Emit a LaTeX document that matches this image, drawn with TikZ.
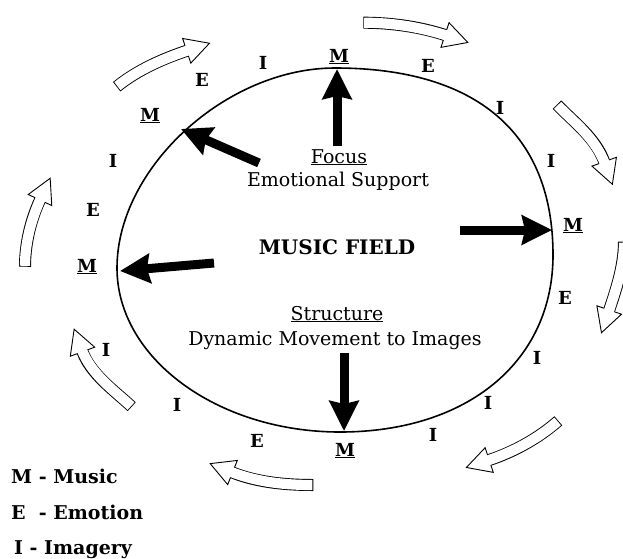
\documentclass[tikz,border=0pt]{standalone}
\usepackage{fontspec}
\setmainfont{DejaVu Serif}
\usetikzlibrary{arrows.meta,calc}
\tikzset{
  lbl/.style={font=\fontsize{18}{18}\selectfont\bfseries, inner sep=0pt, anchor=base},
  body/.style={font=\fontsize{19}{19}\selectfont, inner sep=0pt, anchor=base},
  fieldlbl/.style={font=\fontsize{20}{20}\selectfont\bfseries, inner sep=0pt, anchor=base},
  legend/.style={font=\fontsize{19}{19}\selectfont\bfseries, inner sep=0pt, anchor=base west},
  bigarrow/.style={line width=9pt, -{Stealth[length=30pt,width=29pt,inset=3pt]}},
  field/.style={line width=1.6pt},
}
\newcommand\hollowarrow[4]{%
  \draw[line width=12pt] (#1) .. controls (#2) and (#3) .. (#4);
  \path (#4) coordinate (hb) (#3) coordinate (hc);
  \filldraw[fill=white, line width=0.9pt, line join=miter]
    ($(hb)!13pt!90:(hc)$) -- ($(hb)!-24pt!(hc)$) -- ($(hb)!13pt!-90:(hc)$) -- cycle;
  \draw[line width=10.2pt, white, shorten <=0.9pt, shorten >=-3pt] (#1) .. controls (#2) and (#3) .. (#4);
}
\begin{document}
\begin{tikzpicture}[x=1pt,y=-1pt]
\useasboundingbox (0,0) rectangle (623,558);
% music field
\draw[field] (335,68) .. controls (476.7,68) and (553,133.4) .. (553,255)
  .. controls (553,361.2) and (467.8,432) .. (340,432)
  .. controls (217.4,432) and (117,358.2) .. (117,268)
  .. controls (117,168) and (226,68) .. cycle;
% centre texts
\node[body] (focus) at (339,163) {\underline{Focus}};
\node[body] (emo) at (338,186) {Emotional Support};
\node[fieldlbl] (mf) at (337,254) {MUSIC FIELD};
\node[body] (struct) at (337,320) {\underline{Structure}};
\node[body] (dyn) at (335,345) {Dynamic Movement to Images};
% black arrows
\coordinate (s1) at (337,146); \coordinate (e1) at (337,69);
\coordinate (s2) at (259,163); \coordinate (e2) at (181,129);
\coordinate (s3) at (214,263); \coordinate (e3) at (120,271);
\coordinate (s4) at (460,230); \coordinate (e4) at (552,230);
\coordinate (s5) at (344,353); \coordinate (e5) at (344,431);
\draw[bigarrow] (s1) -- (e1);
\draw[bigarrow] (s2) -- (e2);
\draw[bigarrow] (s3) -- (e3);
\draw[bigarrow] (s4) -- (e4);
\draw[bigarrow] (s5) -- (e5);
% ring letters
\node[lbl] (l1) at (263,69) {I};
\node[lbl] (l2) at (202,86) {E};
\node[lbl] (l3) at (150,121) {\underline{M}};
\node[lbl] (l4) at (113,167) {I};
\node[lbl] (l5) at (93,216) {E};
\node[lbl] (l6) at (87,272) {\underline{M}};
\node[lbl] (l7) at (106,356) {I};
\node[lbl] (l8) at (177,411) {I};
\node[lbl] (l9) at (257,447) {E};
\node[lbl] (l10) at (345,456) {\underline{M}};
\node[lbl] (l11) at (433,441) {I};
\node[lbl] (l12) at (488,409) {I};
\node[lbl] (l13) at (537,364) {I};
\node[lbl] (l14) at (565,304) {E};
\node[lbl] (l15) at (573,231) {\underline{M}};
\node[lbl] (l16) at (551,167) {I};
\node[lbl] (l17) at (500,114) {I};
\node[lbl] (l18) at (428,72) {E};
\node[lbl] (l19) at (339,62) {\underline{M}};
% hollow flow arrows
\hollowarrow{116.7,86.7}{136.9,70.4}{162,59}{186.7,50.8}
\hollowarrow{363.3,22.7}{390.3,22.7}{419.3,26.6}{445,35}
\hollowarrow{557,104.7}{574.4,122.6}{595.7,138.2}{604.2,161.7}
\hollowarrow{624,241.7}{624,264.7}{616.6,288.3}{609.2,310}
\hollowarrow{558.3,420.8}{538.8,438}{513.9,451.9}{489.2,460}
\hollowarrow{313.3,485}{286.3,485}{257.6,482.5}{232.5,472.5}
\hollowarrow{131.7,406.7}{114.2,390.4}{90.9,374.3}{82.5,351.7}
\hollowarrow{25,266.7}{25,244.2}{30.5,220.3}{40,200}
% legend
\node[legend] (lgm) at (11,483) {M - Music};
\node[legend] (lge) at (11,519) {E\ \ - Emotion};
\node[legend] (lgi) at (14,554) {I - Imagery};
\end{tikzpicture}
\end{document}
